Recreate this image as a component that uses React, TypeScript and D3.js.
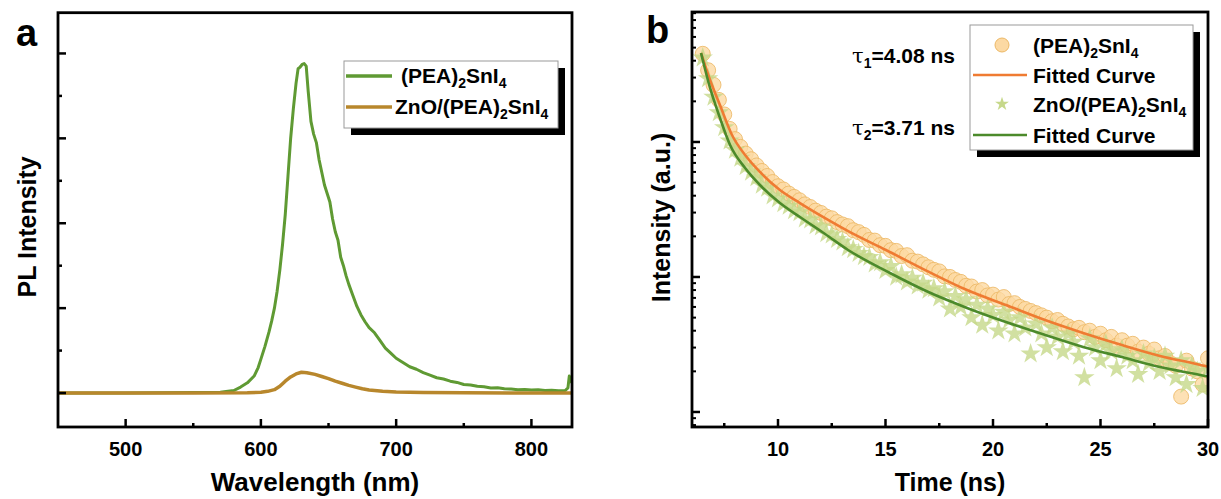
import React from 'react';
import * as d3 from 'd3';

// ---------- Panel a : PL spectra ----------
const plWavelength = [450, 500, 550, 570, 580, 585, 590, 595, 598, 600, 603, 606, 608, 610, 612, 614, 616, 618, 620, 622, 624, 626, 627.5, 629, 630.5, 632, 633.5, 635, 637, 639, 641, 643, 645, 647, 649, 651, 653, 655, 657, 659, 661, 663, 665, 668, 671, 674, 677, 680, 684, 688, 692, 696, 700, 705, 710, 715, 720, 725, 730, 735, 740, 745, 750, 755, 760, 765, 770, 775, 780, 785, 790, 795, 800, 805, 810, 815, 820, 825, 827, 828, 829, 830];
const plPEA = [0, 0, 0.005, 0.01, 0.03, 0.07, 0.12, 0.2, 0.3, 0.4, 0.55, 0.72, 0.85, 1.0, 1.2, 1.45, 1.75, 2.1, 2.55, 3.0, 3.35, 3.65, 3.82, 3.84, 3.87, 3.88, 3.85, 3.55, 3.2, 3.05, 2.95, 2.75, 2.6, 2.45, 2.35, 2.25, 2.05, 1.9, 1.8, 1.6, 1.5, 1.38, 1.28, 1.15, 1.02, 0.92, 0.84, 0.77, 0.71, 0.62, 0.53, 0.47, 0.41, 0.36, 0.31, 0.28, 0.24, 0.21, 0.18, 0.165, 0.14, 0.125, 0.1, 0.095, 0.08, 0.075, 0.06, 0.062, 0.05, 0.048, 0.04, 0.042, 0.035, 0.038, 0.03, 0.033, 0.028, 0.03, 0.06, 0.2, 0.15, 0.12];
const plZnOWavelength = [450, 550, 590, 600, 605, 610, 614, 618, 622, 626, 630, 634, 640, 645, 650, 655, 660, 665, 670, 675, 680, 690, 700, 720, 750, 800, 830];
const plZnO = [0, 0, 0.003, 0.01, 0.02, 0.04, 0.08, 0.14, 0.19, 0.225, 0.245, 0.24, 0.22, 0.195, 0.17, 0.14, 0.115, 0.09, 0.07, 0.05, 0.035, 0.02, 0.012, 0.006, 0.003, 0, 0];

const wlMajor = [500, 600, 700, 800];
const wlMinor = [550, 650, 750];
const plMajor = [0, 1, 2, 3, 4];
const plMinor = [0.5, 1.5, 2.5, 3.5];

// ---------- Panel b : TRPL ----------
const trplTime = [6.5, 6.75, 7, 7.25, 7.5, 7.75, 8, 8.25, 8.5, 8.75, 9, 9.25, 9.5, 9.75, 10, 10.25, 10.5, 10.75, 11, 11.25, 11.5, 11.75, 12, 12.25, 12.5, 12.75, 13, 13.25, 13.5, 13.75, 14, 14.25, 14.5, 14.75, 15, 15.25, 15.5, 15.75, 16, 16.25, 16.5, 16.75, 17, 17.25, 17.5, 17.75, 18, 18.25, 18.5, 18.75, 19, 19.25, 19.5, 19.75, 20, 20.25, 20.5, 20.75, 21, 21.25, 21.5, 21.75, 22, 22.25, 22.5, 22.75, 23, 23.25, 23.5, 23.75, 24, 24.25, 24.5, 24.75, 25, 25.25, 25.5, 25.75, 26, 26.25, 26.5, 26.75, 27, 27.25, 27.5, 27.75, 28, 28.25, 28.5, 28.75, 29, 29.25, 29.5, 29.75, 30];
const trplPEA = [4500, 3400, 2650, 2050, 1600, 1250, 1050, 920, 820, 745, 670, 610, 560, 505, 470, 445, 415, 392, 370, 345, 330, 310, 298, 280, 272, 255, 245, 238, 222, 215, 205, 188, 186, 172, 170, 158, 156, 143, 145, 132, 130, 124, 118, 113, 110, 101, 100, 95, 92, 86, 85, 78, 80, 73, 74, 68, 71, 63, 64, 60, 58, 56, 54, 52, 50, 47, 48, 45, 43, 41, 42, 39, 40, 36, 38, 34, 36, 31, 34, 31, 32, 28, 30, 27, 29, 25, 26, 23, 22, 13, 24, 21, 20, 16, 25];
const trplZnO = [4200, 2950, 2150, 1650, 1280, 1020, 870, 760, 660, 600, 545, 480, 455, 400, 380, 350, 335, 310, 300, 270, 265, 240, 235, 210, 205, 190, 182, 165, 160, 150, 142, 140, 125, 128, 112, 120, 100, 104, 92, 98, 86, 90, 80, 82, 70, 78, 58, 72, 60, 68, 50, 62, 44, 58, 52, 40, 55, 48, 38, 50, 42, 27, 45, 38, 30, 42, 36, 28, 38, 33, 26, 18, 35, 30, 24, 32, 28, 21, 29, 26, 24, 19, 27, 23, 25, 20, 26, 22, 18, 24, 16, 22, 20, 15, 21];

const fitTimePEA = [6.42, 6.84, 7.3, 7.86, 8.47, 9.16, 10.09, 11.02, 12.19, 13.35, 15.02, 17.02, 18.79, 20.6, 22.42, 24.19, 26.0, 27.77, 29.86, 30];
const fitPEA = [4560, 2877, 1879, 1127, 801, 600, 441, 353, 273, 215, 158.5, 109, 80, 62, 48, 38.5, 31.3, 26, 21.9, 21.6];
const fitTimeZnO = [6.42, 6.84, 7.3, 7.77, 8.47, 9.16, 10.09, 11.02, 12.19, 13.26, 15.21, 17.02, 18.79, 20.6, 22.42, 24.19, 26.0, 27.77, 29.86, 30];
const fitZnO = [4560, 2512, 1506, 950, 641, 480, 353, 278, 208, 158.5, 107, 77, 59, 46.4, 37.2, 30.3, 25.5, 21.5, 18.5, 18.3];

const timeMajor = [10, 15, 20, 25, 30];
const timeMinor = [7.5, 12.5, 17.5, 22.5, 27.5];
const intMajor = [10, 100, 1000];
const intMinor = [8, 9, 20, 30, 40, 50, 60, 70, 80, 90, 200, 300, 400, 500, 600, 700, 800, 900, 2000, 3000, 4000, 5000, 6000, 7000, 8000, 9000];

const tauLabels = ['4.08 ns', '3.71 ns'];

const FONT = "'Liberation Sans', Arial, Helvetica, sans-serif";
const GREEN = '#5f9a33';
const GOLD = '#b8872c';
const ORANGE = '#ef7b32';
const FITGREEN = '#4c8a2b';
const CIRCLE_FILL = '#fcd9a3';
const CIRCLE_STROKE = '#ecb866';
const STAR_FILL = '#c6d88a';

const SUB = 14;
const PEA = (prefix: string) => (
  <>
    <tspan>{prefix}(PEA)</tspan>
    <tspan dy={5} fontSize={SUB}>2</tspan>
    <tspan dy={-5}>SnI</tspan>
    <tspan dy={5} fontSize={SUB}>4</tspan>
  </>
);

function Legend({ x, y, w, h }: { x: number; y: number; w: number; h: number }) {
  return (
    <g>
      <rect x={x + 7} y={y + 7} width={w} height={h} fill="#000" />
      <rect x={x} y={y} width={w} height={h} fill="#fff" stroke="#9a9a9a" strokeWidth={1} />
    </g>
  );
}

function PanelA() {
  const L = 58, R = 572, T = 12.7, B = 427;
  const x = d3.scaleLinear().domain([450, 830]).range([L, R]);
  const y = d3.scaleLinear().domain([-0.4, 4.48]).range([B, T]);
  const lineA = d3.line<number>().x((_, i) => x(plWavelength[i])).y((d) => y(d));
  const lineB = d3.line<number>().x((_, i) => x(plZnOWavelength[i])).y((d) => y(d));
  return (
    <g>
      <defs>
        <clipPath id="clipA"><rect x={L} y={T} width={R - L} height={B - T} /></clipPath>
      </defs>
      <g clipPath="url(#clipA)">
        <path d={lineA(plPEA) || ''} fill="none" stroke={GREEN} strokeWidth={3} strokeLinejoin="round" />
        <path d={lineB(plZnO) || ''} fill="none" stroke={GOLD} strokeWidth={3.5} strokeLinejoin="round" />
      </g>
      {wlMajor.map((v) => (
        <line key={'xm' + v} x1={x(v)} x2={x(v)} y1={B} y2={B - 8} stroke="#000" strokeWidth={2.5} />
      ))}
      {wlMinor.map((v) => (
        <line key={'xn' + v} x1={x(v)} x2={x(v)} y1={B} y2={B - 4} stroke="#000" strokeWidth={2.5} />
      ))}
      {plMajor.map((v) => (
        <line key={'ym' + v} x1={L} x2={L + 8} y1={y(v)} y2={y(v)} stroke="#000" strokeWidth={2.5} />
      ))}
      {plMinor.map((v) => (
        <line key={'yn' + v} x1={L} x2={L + 4} y1={y(v)} y2={y(v)} stroke="#000" strokeWidth={2.5} />
      ))}
      <rect x={L} y={T} width={R - L} height={B - T} fill="none" stroke="#000" strokeWidth={2.8} />
      {wlMajor.map((v) => (
        <text key={'xl' + v} x={x(v)} y={456} textAnchor="middle" fontSize={20} fontWeight="bold" fontFamily={FONT}>{v}</text>
      ))}
      <text x={(L + R) / 2} y={491} textAnchor="middle" fontSize={26} fontWeight="bold" fontFamily={FONT}>Wavelength (nm)</text>
      <text transform={`translate(36,${(T + B) / 2 + 7}) rotate(-90)`} textAnchor="middle" fontSize={25} fontWeight="bold" fontFamily={FONT}>PL Intensity</text>
      <text x={16} y={46} fontSize={38} fontWeight="bold" fontFamily={FONT}>a</text>

      <Legend x={344} y={61} w={214} h={67} />
      <line x1={346} x2={392} y1={76} y2={76} stroke={GREEN} strokeWidth={3.5} />
      <line x1={346} x2={392} y1={107} y2={107} stroke={GOLD} strokeWidth={3.5} />
      <text x={401} y={83} fontSize={21} fontWeight="bold" fontFamily={FONT}>{PEA('')}</text>
      <text x={395} y={114} fontSize={21} fontWeight="bold" fontFamily={FONT}>{PEA('ZnO/')}</text>
    </g>
  );
}

function PanelB() {
  const L = 692, R = 1208, T = 12, B = 427;
  const x = d3.scaleLinear().domain([6, 30]).range([L, R]);
  const y = d3.scaleLog().domain([7.74, 9180]).range([B, T]);
  const fitLine = (ts: number[]) =>
    d3.line<number>().x((_, i) => x(ts[i])).y((d) => y(d)).curve(d3.curveMonotoneX);
  const star = d3.symbol().type(d3.symbolStar).size(130)() || '';
  const starSmall = d3.symbol().type(d3.symbolStar).size(60)() || '';
  return (
    <g>
      <defs>
        <clipPath id="clipB"><rect x={L} y={T} width={R - L} height={B - T} /></clipPath>
      </defs>
      <g clipPath="url(#clipB)">
        {trplTime.map((t, i) => (
          <circle key={'c' + i} cx={x(t)} cy={y(trplPEA[i])} r={7.5} fill={CIRCLE_FILL} fillOpacity={0.8} stroke={CIRCLE_STROKE} strokeOpacity={0.85} strokeWidth={1} />
        ))}
        {trplTime.map((t, i) => (
          <path key={'s' + i} d={star} transform={`translate(${x(t)},${y(trplZnO[i])})`} fill={STAR_FILL} fillOpacity={0.8} />
        ))}
        <path d={fitLine(fitTimePEA)(fitPEA) || ''} fill="none" stroke={ORANGE} strokeWidth={2.6} />
        <path d={fitLine(fitTimeZnO)(fitZnO) || ''} fill="none" stroke={FITGREEN} strokeWidth={2.6} />
      </g>
      {timeMajor.map((v) => (
        <line key={'xm' + v} x1={x(v)} x2={x(v)} y1={B} y2={B - 8} stroke="#000" strokeWidth={2.5} />
      ))}
      {timeMinor.map((v) => (
        <line key={'xn' + v} x1={x(v)} x2={x(v)} y1={B} y2={B - 4} stroke="#000" strokeWidth={2.5} />
      ))}
      {intMajor.map((v) => (
        <line key={'ym' + v} x1={L} x2={L + 8} y1={y(v)} y2={y(v)} stroke="#000" strokeWidth={2.5} />
      ))}
      {intMinor.map((v) => (
        <line key={'yn' + v} x1={L} x2={L + 4} y1={y(v)} y2={y(v)} stroke="#000" strokeWidth={2} />
      ))}
      <rect x={L} y={T} width={R - L} height={B - T} fill="none" stroke="#000" strokeWidth={2.8} />
      {timeMajor.map((v) => (
        <text key={'xl' + v} x={x(v)} y={456} textAnchor="middle" fontSize={20} fontWeight="bold" fontFamily={FONT}>{v}</text>
      ))}
      <text x={(L + R) / 2} y={491} textAnchor="middle" fontSize={25} fontWeight="bold" fontFamily={FONT}>Time (ns)</text>
      <text transform={`translate(670,${(T + B) / 2 - 2}) rotate(-90)`} textAnchor="middle" fontSize={25} fontWeight="bold" fontFamily={FONT}>Intensity (a.u.)</text>
      <text x={646} y={43} fontSize={38} fontWeight="bold" fontFamily={FONT}>b</text>

      {tauLabels.map((s, i) => (
        <text key={'tau' + i} x={955} y={i === 0 ? 63 : 135} textAnchor="end" fontSize={21} fontWeight="bold" fontFamily={FONT}>
          <tspan fontFamily="'DejaVu Serif', serif" fontWeight="normal">τ</tspan>
          <tspan dy={5} fontSize={SUB}>{i + 1}</tspan>
          <tspan dy={-5}>={s}</tspan>
        </text>
      ))}

      <Legend x={970} y={25} w={223} h={125} />
      <circle cx={1002} cy={45} r={7} fill={CIRCLE_FILL} stroke={CIRCLE_STROKE} strokeWidth={1} />
      <line x1={973} x2={1027} y1={75} y2={75} stroke={ORANGE} strokeWidth={2.6} />
      <path d={starSmall} transform="translate(1002,104)" fill={STAR_FILL} />
      <line x1={973} x2={1027} y1={135} y2={135} stroke={FITGREEN} strokeWidth={2.6} />
      <text x={1033} y={53} fontSize={21} fontWeight="bold" fontFamily={FONT}>{PEA('')}</text>
      <text x={1033} y={83} fontSize={21} fontWeight="bold" fontFamily={FONT}>Fitted Curve</text>
      <text x={1033} y={112} fontSize={21} fontWeight="bold" fontFamily={FONT}>{PEA('ZnO/')}</text>
      <text x={1033} y={143} fontSize={21} fontWeight="bold" fontFamily={FONT}>Fitted Curve</text>
    </g>
  );
}

export default function App() {
  return (
    <svg width={1221} height={499} viewBox="0 0 1221 499" style={{ position: 'absolute', left: 0, top: 0, background: '#fff' }}>
      <rect x={0} y={0} width={1221} height={499} fill="#fff" />
      <PanelA />
      <PanelB />
    </svg>
  );
}
